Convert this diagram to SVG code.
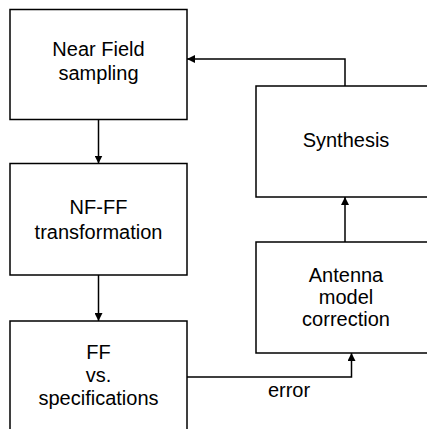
<svg xmlns="http://www.w3.org/2000/svg" width="427" height="429" viewBox="0 0 427 429">
<style>
.box{fill:#fff;stroke:#000;stroke-width:1.5}
.t{font-family:"Liberation Sans",Arial,sans-serif;font-size:20px;fill:#000;text-anchor:middle}
.c{fill:none;stroke:#000;stroke-width:1.5}
</style>
<defs>
<marker id="ah" viewBox="0 0 10 10" refX="10" refY="5" markerWidth="8" markerHeight="8" markerUnits="userSpaceOnUse" orient="auto">
<path d="M0,0 L10,5 L0,10 z" fill="#000"/>
</marker>
</defs>
<rect width="427" height="429" fill="#fff"/>
<g id="near-field">
<rect class="box" x="10" y="9.5" width="177" height="110"/>
<text class="t" x="98.5" y="56">Near Field</text>
<text class="t" x="98.5" y="80">sampling</text>
</g>
<g id="nf-ff">
<rect class="box" x="10" y="163.5" width="177" height="111.5"/>
<text class="t" x="98.5" y="214">NF-FF</text>
<text class="t" x="98.5" y="239">transformation</text>
</g>
<g id="ff-vs-spec">
<rect class="box" x="10" y="321" width="177" height="120"/>
<text class="t" x="98.5" y="359">FF</text>
<text class="t" x="98.5" y="382">vs.</text>
<text class="t" x="98.5" y="405">specifications</text>
</g>
<g id="synthesis">
<rect class="box" x="256" y="86" width="181" height="111"/>
<text class="t" x="346" y="147">Synthesis</text>
</g>
<g id="antenna">
<rect class="box" x="256" y="242" width="181" height="111"/>
<text class="t" x="346" y="282">Antenna</text>
<text class="t" x="346" y="304">model</text>
<text class="t" x="346" y="326">correction</text>
</g>
<g id="connectors">
<path class="c" d="M345,86 V59 H187" marker-end="url(#ah)"/>
<path class="c" d="M98.5,119.5 V163.5" marker-end="url(#ah)"/>
<path class="c" d="M98.5,275 V321" marker-end="url(#ah)"/>
<path class="c" d="M345,242 V197" marker-end="url(#ah)"/>
<path class="c" d="M187,377 H351.5 V353" marker-end="url(#ah)"/>
<text class="t" x="289" y="397">error</text>
</g>
</svg>
